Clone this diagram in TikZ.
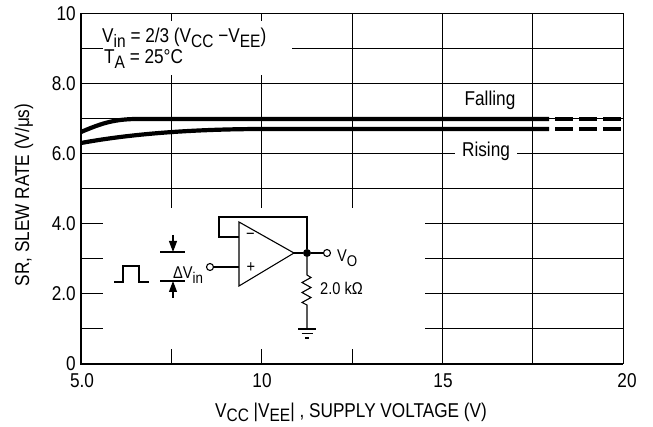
\documentclass[tikz,border=0pt]{standalone}
\usepackage{fontspec}
\setmainfont[FakeStretch=0.86]{Liberation Sans}
\usetikzlibrary{arrows.meta}
\newcommand{\sbs}[1]{\raisebox{-0.25em}{\fontsize{18}{18}\selectfont #1}}
\newcommand{\sbsm}[1]{\raisebox{-0.25em}{\fontsize{15.5}{15.5}\selectfont #1}}
\begin{document}
\begin{tikzpicture}[x=1pt,y=-1pt,
  big/.style={font=\fontsize{20}{24}\selectfont, inner sep=0pt},
  small/.style={font=\fontsize{17}{20}\selectfont, inner sep=0pt},
  gridline/.style={line width=1pt},
  axisline/.style={line width=2.6pt},
  curveline/.style={line width=4.2pt},
  dashpart/.style={line width=4.2pt, dash pattern=on 18pt off 6pt, dash phase=18pt},
  wire/.style={line width=1.1pt},
  opendot/.style={circle, draw, line width=1.1pt, fill=white, minimum size=7pt, inner sep=0pt},
  soliddot/.style={circle, fill, minimum size=8pt, inner sep=0pt},
  arrowtip/.style={-{Triangle[length=11pt,width=8pt]}}]
\useasboundingbox (0,0) rectangle (653,427);

% grid
\foreach \yy in {49,84,119,189,224,259,294,329} \draw[gridline] (81,\yy) -- (623,\yy);
\draw[gridline] (81,154) -- (455,154);
\draw[gridline] (517,154) -- (623,154);
\draw[gridline] (81,14) -- (623,14) -- (623,364);
\foreach \xx in {171.3,261.7,352,442.3,532.6} \draw[gridline] (\xx,14) -- (\xx,364);
\fill[white] (103,21) rectangle (292,75);
\fill[white] (103,208) rectangle (425,349);

% axes
\draw[axisline] (81,13) -- (81,364) -- (623,364);

% curves
\coordinate (f0) at (81,132);
\coordinate (f1) at (135,119);
\coordinate (f2) at (549,119);
\coordinate (f3) at (623,119);
\coordinate (r0) at (81,143);
\coordinate (r1) at (260,129);
\coordinate (r2) at (549,129);
\coordinate (r3) at (623,129);
\draw[curveline] (f0) .. controls (100,124) and (112,119.5) .. (f1) -- (f2);
\draw[dashpart] (f2) -- (f3);
\draw[curveline] (r0) .. controls (130,134) and (190,129.3) .. (r1) -- (r2);
\draw[dashpart] (r2) -- (r3);
\node[big, anchor=base] (fall) at (490,106) {Falling};
\node[big, anchor=base] (rise) at (486,157) {Rising};

% condition text
\node[big, anchor=base west] (vin) at (102,43) {V\sbs{in} = 2/3 (V\sbs{CC} −V\sbs{EE})};
\node[big, anchor=base west] (ta) at (104,64) {T\sbs{A} = 25°C};

% tick labels
\foreach \v/\yy/\n in {10/14/a, 8.0/84/b, 6.0/154/c, 4.0/224/d, 2.0/294/e, 0/364/f}
  \node[big, anchor=east] (yl\n) at (76,\yy) {\v};
\foreach \v/\xx/\n in {5.0/82/a, 10/262/b, 15/443/c, 20/627/d}
  \node[big, anchor=base] (xl\n) at (\xx,388) {\v};

% axis titles
\node[big, anchor=base] (xtitle) at (351,417) {V\sbs{CC} |V\sbs{EE}| , SUPPLY VOLTAGE (V)};
\node[big, rotate=90, anchor=base] (ytitle) at (29,195) {SR, SLEW RATE (V/μs)};

% circuit: input pulse and delta marks
\draw[wire] (114,282) -- (123,282) -- (123,266) -- (139,266) -- (139,282) -- (149,282);
\coordinate (dl1a) at (160,252); \coordinate (dl1b) at (185,252);
\coordinate (dl2a) at (160,281); \coordinate (dl2b) at (185,281);
\draw[wire] (dl1a) -- (dl1b);
\draw[wire] (dl2a) -- (dl2b);
\coordinate (au0) at (173,235); \coordinate (au1) at (173,252);
\coordinate (ad0) at (173,298); \coordinate (ad1) at (173,281);
\draw[wire, arrowtip] (au0) -- (au1);
\draw[wire, arrowtip] (ad0) -- (ad1);
\node[small, anchor=base west] (dv) at (173,279) {ΔV\sbsm{in}};

% op amp
\coordinate (tl) at (239,222); \coordinate (tip) at (294,253); \coordinate (bl) at (239,286);
\draw[wire] (tl) -- (tip) -- (bl) -- cycle;
\node[opendot] (inp) at (210,267) {};
\coordinate (pin) at (239,267);
\coordinate (nin) at (239,237);
\draw[wire] (inp) -- (pin);
\node[small] (minus) at (250.5,236.5) {−};
\node[small] (plus) at (251,267.5) {+};
\node[soliddot] (out) at (307,253) {};
\node[opendot] (vo) at (327,253) {};
\draw[wire] (tip) -- (out) -- (vo);
\draw[wire] (nin) -- (219,237) -- (219,217) -- (307,217) -- (out);
\node[small, anchor=base west] (volab) at (337,262) {V\sbsm{O}};

% load resistor and ground
\coordinate (gnd) at (307,329);
\draw[wire] (out) -- (307,275) -- (311,277.5) -- (302,282.5) -- (311,287.5) -- (302,292.5) -- (311,297.5) -- (302,302.5) -- (307,305) -- (gnd);
\draw[wire] (298,329) -- (316,329);
\draw[wire] (301.5,333.5) -- (312.5,333.5);
\draw[wire] (305,338) -- (309,338);
\node[small, anchor=base west] (rl) at (320,295) {2.0 kΩ};
\end{tikzpicture}
\end{document}
